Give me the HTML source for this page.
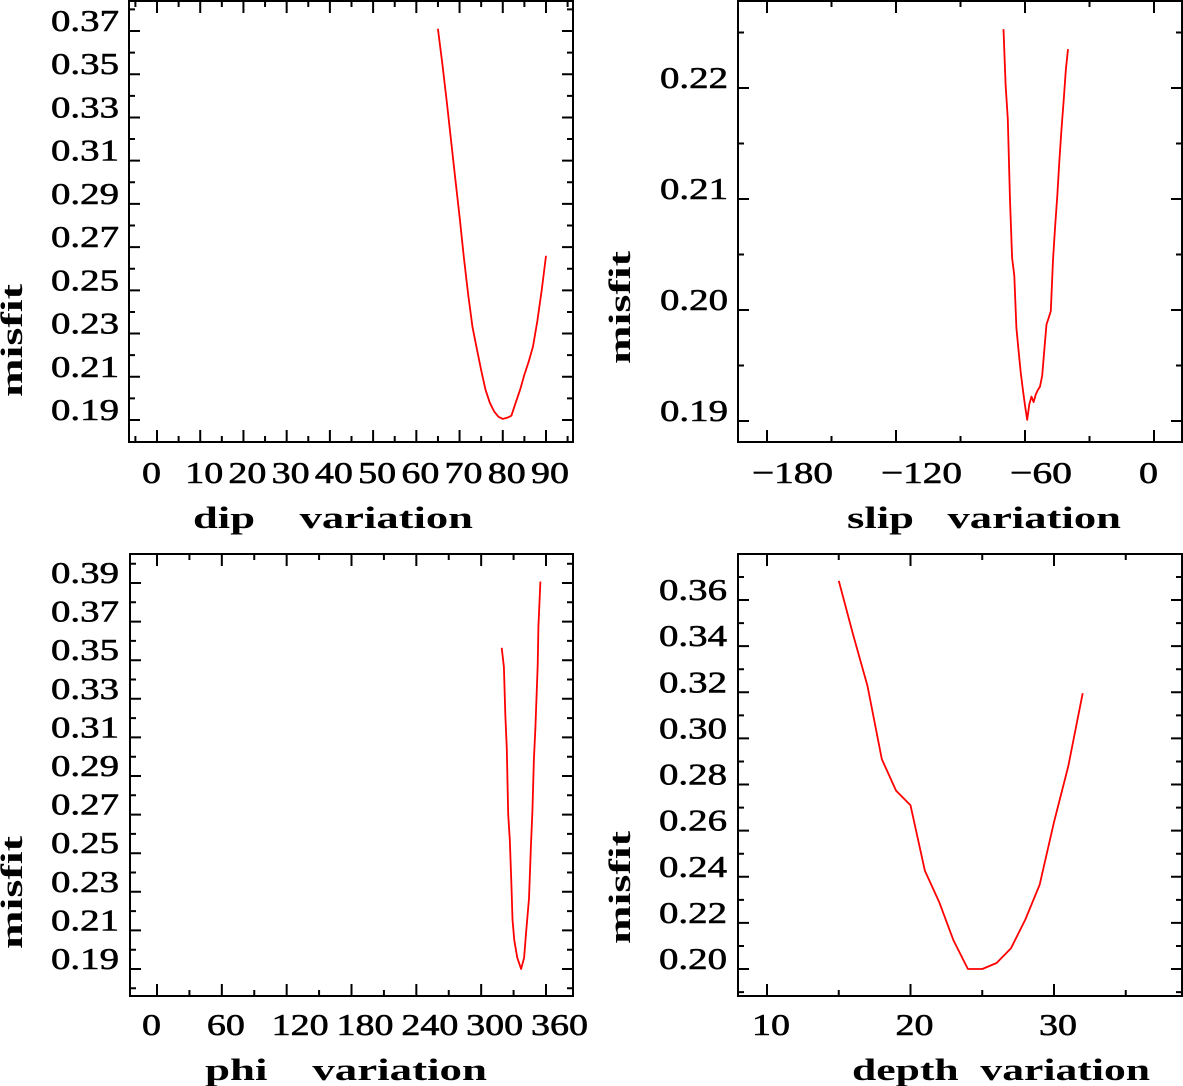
<!DOCTYPE html>
<html><head><meta charset="utf-8"><style>
html,body{margin:0;padding:0;background:#fff;}
svg{display:block;}
text{font-family:"Liberation Serif",serif;fill:#000;white-space:pre;}
.lab{stroke:#000;stroke-width:0.6;}
</style></head><body>
<svg id="chart" width="1183" height="1086" viewBox="0 0 1183 1086" xmlns="http://www.w3.org/2000/svg"></svg>
<script>
// ---- data ----
const dipX = [65,66,67,68,69,70,71,72,73,74,75,76,77,78,79,80,81,82,83,84,85,86,87,88,89,90];
const dipMisfit = [0.371,0.355,0.338,0.320,0.302,0.284,0.265,0.248,0.233,0.223,0.213,0.204,0.198,0.194,0.1915,0.1905,0.191,0.192,0.198,0.204,0.211,0.217,0.224,0.236,0.250,0.266];
const dipTicks = [0,10,20,30,40,50,60,70,80,90];
const dipYTicks = [0.19,0.21,0.23,0.25,0.27,0.29,0.31,0.33,0.35,0.37];

const slipX = [-70,-69,-68,-67,-66,-65,-64,-63,-62,-61,-60,-59,-58,-57,-56,-55,-54,-53,-52,-51,-50,-49,-48,-47,-46,-45,-44,-43,-42,-41,-40];
const slipMisfit = [0.2253,0.2203,0.2172,0.2099,0.2047,0.2031,0.1984,0.1964,0.1944,0.1928,0.1914,0.1901,0.1915,0.1922,0.1917,0.1924,0.1928,0.1931,0.1941,0.1964,0.1987,0.1993,0.1999,0.2045,0.2075,0.2103,0.2135,0.2163,0.2189,0.2216,0.2235];
const slipTicks = [-180,-120,-60,0];
const slipYTicks = [0.19,0.20,0.21,0.22];

const phiX = [319,321,322.3,323.7,325,326.5,328,329,330.7,333.4,337,339.7,341.8,344.3,346,347.4,348.8,350.2,352.3,353,354.8];
const phiMisfit = [0.3564,0.3465,0.322,0.304,0.270,0.257,0.234,0.2156,0.2048,0.1958,0.190,0.1958,0.2102,0.2265,0.2535,0.2716,0.2987,0.315,0.3474,0.3673,0.3907];
const phiTicks = [0,60,120,180,240,300,360];
const phiYTicks = [0.19,0.21,0.23,0.25,0.27,0.29,0.31,0.33,0.35,0.37,0.39];

const depthX = [15,16,17,18,19,20,21,22,23,24,25,26,27,28,29,30,31,32];
const depthMisfit = [0.3683,0.345,0.3227,0.291,0.2773,0.271,0.2426,0.229,0.2124,0.200,0.200,0.2026,0.209,0.2214,0.2366,0.2637,0.288,0.3196];
const depthTicks = [10,20,30];
const depthYTicks = [0.20,0.22,0.24,0.26,0.28,0.30,0.32,0.34,0.36];

const NS = "http://www.w3.org/2000/svg";
const svg = document.getElementById('chart');
function mk(tag, attrs, parent){
  const e = document.createElementNS(NS, tag);
  for (const k in attrs) e.setAttribute(k, attrs[k]);
  (parent||svg).appendChild(e);
  return e;
}
function textW(s){let w=0;for(const c of s){w+= c==='.'?11:(c==='−'?24:19);}return w;}

function panel(p){
  const g = mk('g', {});
  
  
  const xs = v => p.xp0 + (v - p.xv0) * (p.xp1 - p.xp0) / (p.xv1 - p.xv0);
  const ys = v => p.yp0 + (v - p.yv0) * (p.yp1 - p.yp0) / (p.yv1 - p.yv0);
  const L=p.fx0,R=p.fx1,T=p.fy0,B=p.fy1;
  const frame = mk('rect', {x:L,y:T,width:R-L,height:B-T,fill:'none',stroke:'#000','stroke-width':2}, g);
  
  
  const xlo = (L - p.xp0)/(p.xp1-p.xp0)*(p.xv1-p.xv0)+p.xv0;
  const xhi = (R - p.xp0)/(p.xp1-p.xp0)*(p.xv1-p.xv0)+p.xv0;
  let d='';
  for (let k=Math.ceil(xlo/p.xMinor); k*p.xMinor<=xhi; k++){
    const v=k*p.xMinor, x=xs(v);
    if (x<L+3||x>R-3) continue;
    const major = Math.abs(v/p.xMajor - Math.round(v/p.xMajor))<1e-6;
    const len = major?12:6;
    d+=`M${x},${B}v${-len}M${x},${T}v${len}`;
  }
  const ylo = (B - p.yp0)/(p.yp1-p.yp0)*(p.yv1-p.yv0)+p.yv0;
  const yhi = (T - p.yp0)/(p.yp1-p.yp0)*(p.yv1-p.yv0)+p.yv0;
  for (let k=Math.ceil(ylo/p.yMinor-1e-6); k*p.yMinor<=yhi+1e-9; k++){
    const v=k*p.yMinor, y=ys(v);
    if (y<T+3||y>B-3) continue;
    const r = v/p.yMajor - 0.5*p.yOdd;
    const major = Math.abs(r - Math.round(r))<1e-4;
    const len = major?11:6;
    d+=`M${L},${y}h${len}M${R},${y}h${-len}`;
  }
  const ticks = mk('path', {d:d, stroke:'#000','stroke-width':2, fill:'none'}, g);
  
  
  p.xLabels.forEach(v=>{
    const s = (v<0?'−':'') + Math.abs(v);
    const t = mk('text', {class:'lab', x:xs(v)-15, y:p.xLabY, 'font-size':31, textLength:textW(s), lengthAdjust:'spacingAndGlyphs'}, g);
    t.textContent = s;
    
    
  });
  p.yLabels.forEach(v=>{
    const s = v.toFixed(2);
    const w = textW(s);
    const t = mk('text', {class:'lab', x:p.yLabR - w, y:ys(v), 'font-size':31, textLength:w, lengthAdjust:'spacingAndGlyphs'}, g);
    t.textContent = s;
    
    
  });
  const xt = mk('text', {x:p.xtX, y:p.xtY, 'font-size':31, 'font-weight':'bold', textLength:p.xtW, lengthAdjust:'spacingAndGlyphs'}, g);
  xt.textContent = p.xTitle;
  
  
  const yt = mk('text', {x:0, y:0, 'font-size':31, 'font-weight':'bold', textLength:113, lengthAdjust:'spacingAndGlyphs', transform:`translate(${p.ytX},${p.ytY}) rotate(-90)`}, g);
  yt.textContent = 'misfit';
  
  
  const pts = p.xd.map((v,i)=>`${xs(v).toFixed(1)},${ys(p.yd[i]).toFixed(1)}`).join(' ');
  const line = mk('polyline', {points:pts, fill:'none', stroke:'#ff0000', 'stroke-width':1.8, 'stroke-linejoin':'round'}, g);
  
  
}

panel({name:'dip-panel', fx0:129,fx1:573,fy0:1,fy1:442,
  xv0:0,xv1:90,xp0:157,xp1:546, yv0:0.19,yv1:0.37,yp0:420,yp1:31,
  xMinor:5,xMajor:10,yMinor:0.01,yMajor:0.02,yOdd:1,
  xLabels:dipTicks,yLabels:dipYTicks,xLabY:483,yLabR:119,
  xTitle:'dip    variation',xtX:193,xtY:528,xtW:280,ytX:22,ytY:397,
  xd:dipX,yd:dipMisfit});
panel({name:'slip-panel', fx0:738,fx1:1182,fy0:1,fy1:442,
  xv0:-180,xv1:0,xp0:767,xp1:1154, yv0:0.19,yv1:0.22,yp0:421,yp1:88,
  xMinor:30,xMajor:60,yMinor:0.005,yMajor:0.01,yOdd:0,
  xLabels:slipTicks,yLabels:slipYTicks,xLabY:483,yLabR:728,
  xTitle:'slip   variation',xtX:847,xtY:528,xtW:274,ytX:630,ytY:364,
  xd:slipX,yd:slipMisfit});
panel({name:'phi-panel', fx0:130,fx1:573,fy0:554,fy1:996,
  xv0:0,xv1:360,xp0:157,xp1:546, yv0:0.19,yv1:0.39,yp0:969,yp1:583,
  xMinor:30,xMajor:60,yMinor:0.01,yMajor:0.02,yOdd:1,
  xLabels:phiTicks,yLabels:phiYTicks,xLabY:1035,yLabR:119,
  xTitle:'phi    variation',xtX:205,xtY:1080,xtW:282,ytX:22,ytY:949,
  xd:phiX,yd:phiMisfit});
panel({name:'depth-panel', fx0:738,fx1:1182,fy0:554,fy1:996,
  xv0:10,xv1:30,xp0:767,xp1:1054, yv0:0.20,yv1:0.36,yp0:969,yp1:600,
  xMinor:5,xMajor:10,yMinor:0.01,yMajor:0.02,yOdd:0,
  xLabels:depthTicks,yLabels:depthYTicks,xLabY:1035,yLabR:727,
  xTitle:'depth  variation',xtX:852,xtY:1080,xtW:298,ytX:630,ytY:944,
  xd:depthX,yd:depthMisfit});
</script>
</body></html>
